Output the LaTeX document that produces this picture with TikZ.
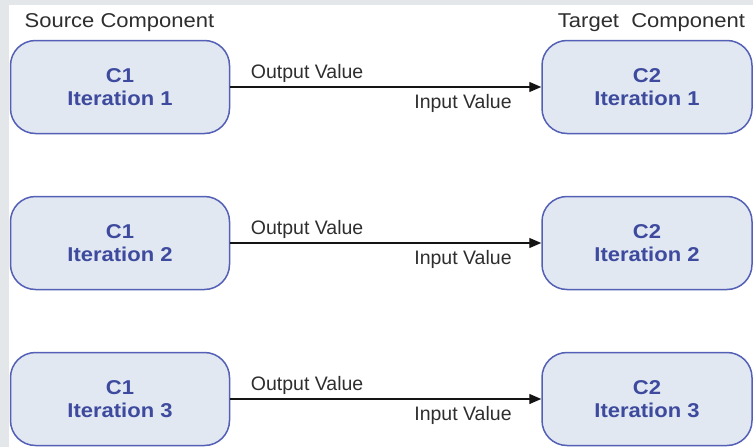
\documentclass[tikz,border=0pt]{standalone}
\usepackage{fontspec}
\setmainfont{Liberation Sans}
\newfontfamily\widefont[FakeStretch=1.1]{Liberation Sans}
\usetikzlibrary{arrows.meta}
\definecolor{framegray}{HTML}{E4E7EA}
\definecolor{compfill}{HTML}{E1E8F1}
\definecolor{compline}{HTML}{5460B6}
\definecolor{comptext}{HTML}{3D4A9E}
\definecolor{labelgray}{HTML}{2E2E2E}
\definecolor{linkblack}{HTML}{141414}

\begin{document}
\begin{tikzpicture}[x=1pt, y=-1pt, >={Triangle[length=12pt, width=10pt]},
  comp/.style={draw=compline, fill=compfill, line width=1.5pt, rounded corners=25pt,
    minimum height=93pt, align=center, text=comptext, inner sep=0pt,
    font=\widefont\fontsize{20}{23}\selectfont\bfseries},
  link/.style={->, line width=1.3pt, draw=linkblack},
  lbl/.style={inner sep=0pt, text=labelgray, font=\fontsize{19.5}{23}\selectfont},
  head/.style={inner sep=0pt, anchor=base, text=labelgray, font=\widefont\fontsize{20}{23}\selectfont}]
  \useasboundingbox (0,0) rectangle (753,447);
  \fill[framegray] (0,0) rectangle (753,447);
  \fill[white] (8.5,4.5) rectangle (753,447);

  \node[head] (src) at (119.5,27.5) {Source Component};
  \node[head] (tgt) at (651.5,27.5) {Target\ \ Component};

  \node[comp, minimum width=219pt] (s1) at (120,87) {C1\\Iteration 1};
  \node[comp, minimum width=210pt] (t1) at (647,87) {C2\\Iteration 1};
  \draw[link] (s1.east) -- (t1.west)
    node[lbl, pos=0, anchor=base west, xshift=20pt, yshift=9pt] (out1) {Output Value}
    node[lbl, pos=1, anchor=base east, xshift=-29pt, yshift=-21pt] (in1) {Input Value};

  \node[comp, minimum width=219pt] (s2) at (120,243) {C1\\Iteration 2};
  \node[comp, minimum width=210pt] (t2) at (647,243) {C2\\Iteration 2};
  \draw[link] (s2.east) -- (t2.west)
    node[lbl, pos=0, anchor=base west, xshift=20pt, yshift=9pt] (out2) {Output Value}
    node[lbl, pos=1, anchor=base east, xshift=-29pt, yshift=-21pt] (in2) {Input Value};

  \node[comp, minimum width=219pt] (s3) at (120,399) {C1\\Iteration 3};
  \node[comp, minimum width=210pt] (t3) at (647,399) {C2\\Iteration 3};
  \draw[link] (s3.east) -- (t3.west)
    node[lbl, pos=0, anchor=base west, xshift=20pt, yshift=9pt] (out3) {Output Value}
    node[lbl, pos=1, anchor=base east, xshift=-29pt, yshift=-21pt] (in3) {Input Value};
\end{tikzpicture}
\end{document}
